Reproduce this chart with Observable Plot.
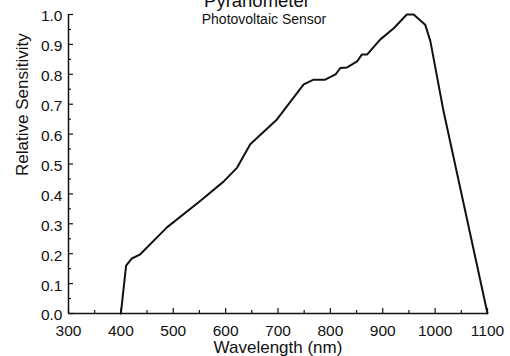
<!DOCTYPE html>
<html>
<head>
<meta charset="utf-8">
<script src="https://cdn.jsdelivr.net/npm/d3@7"></script>
<script src="https://cdn.jsdelivr.net/npm/@observablehq/plot@0.6"></script>
<style>
  html, body { margin: 0; padding: 0; background: #fff; }
  #chart svg { display: block; font-family: "Liberation Sans", Arial, Helvetica, sans-serif; }
</style>
</head>
<body>
<div id="chart"></div>
<script>
const wavelength = [400, 410, 421, 437, 488, 552, 596, 622, 647, 698, 749, 768, 790, 810, 819, 832, 851, 860, 870, 895, 921, 946, 959, 981, 991, 1016, 1100];
const sensitivity = [0, 0.16, 0.184, 0.198, 0.288, 0.377, 0.441, 0.488, 0.566, 0.649, 0.766, 0.782, 0.782, 0.80, 0.821, 0.823, 0.843, 0.866, 0.866, 0.916, 0.954, 1.0, 1.0, 0.966, 0.91, 0.677, 0];
const xTicks = [300, 400, 500, 600, 700, 800, 900, 1000, 1100];
const xMinor = [350, 450, 550, 650, 750, 850, 950, 1050];
const yTicks = [0, 0.1, 0.2, 0.3, 0.4, 0.5, 0.6, 0.7, 0.8, 0.9, 1.0];
const yMinor = [0.05, 0.15, 0.25, 0.35, 0.45, 0.55, 0.65, 0.75, 0.85, 0.95];
const title = "Pyranometer";
const subtitle = "Photovoltaic Sensor";
const xLabel = "Wavelength (nm)";
const yLabel = "Relative Sensitivity";

const data = wavelength.map((w, i) => ({w, s: sensitivity[i]}));

const W = 510, H = 356, mL = 68, mR = 23, mT = 14, mB = 43;
const pxX = (W - mL - mR) / 800;   // px per nm
const pxY = (H - mT - mB) / 1;     // px per unit

const chart = Plot.plot({
  width: W,
  height: H,
  marginLeft: mL,
  marginRight: mR,
  marginTop: mT,
  marginBottom: mB,
  style: {fontFamily: "Liberation Sans, Arial, sans-serif", background: "#fff", color: "#111"},
  x: {domain: [300, 1100]},
  y: {domain: [0, 1]},
  marks: [
    Plot.axisX({ticks: xTicks, tickSize: 0, tickPadding: 11, fontSize: 15.5, tickFormat: d => String(d), label: null}),
    Plot.axisY({ticks: yTicks, tickSize: 0, tickPadding: 6, fontSize: 15.5, dy: 2, tickFormat: d => d.toFixed(1), label: null}),
    Plot.ruleY([0], {stroke: "#111", strokeWidth: 1.5}),
    Plot.ruleX([300], {y1: 0, y2: 1, stroke: "#111", strokeWidth: 1.5}),
    Plot.ruleX(xTicks, {y1: 0, y2: 5 / pxY, stroke: "#111", strokeWidth: 1.2}),
    Plot.ruleX(xMinor, {y1: 0, y2: 3 / pxY, stroke: "#111", strokeWidth: 1.2}),
    Plot.ruleY(yTicks, {x1: 300, x2: 300 + 5 / pxX, stroke: "#111", strokeWidth: 1.2}),
    Plot.ruleY(yMinor, {x1: 300, x2: 300 + 3 / pxX, stroke: "#111", strokeWidth: 1.2}),
    Plot.line(data, {x: "w", y: "s", stroke: "#111", strokeWidth: 2, clip: false}),
    Plot.text([title], {text: d => d, frameAnchor: "top", dx: -21, dy: -8, fontSize: 18.5, lineAnchor: "bottom", fill: "#111"}),
    Plot.text([subtitle], {text: d => d, frameAnchor: "top", dx: -14, dy: 9.5, fontSize: 14, lineAnchor: "bottom", fill: "#111"}),
    Plot.text([xLabel], {text: d => d, frameAnchor: "bottom", dx: 0, dy: 34, fontSize: 17, lineAnchor: "middle", fill: "#111"}),
    Plot.text([yLabel], {text: d => d, frameAnchor: "left", dx: -46, dy: 12, rotate: -90, fontSize: 17, lineAnchor: "middle", fill: "#111"})
  ]
});
document.getElementById("chart").appendChild(chart);
</script>
</body>
</html>
